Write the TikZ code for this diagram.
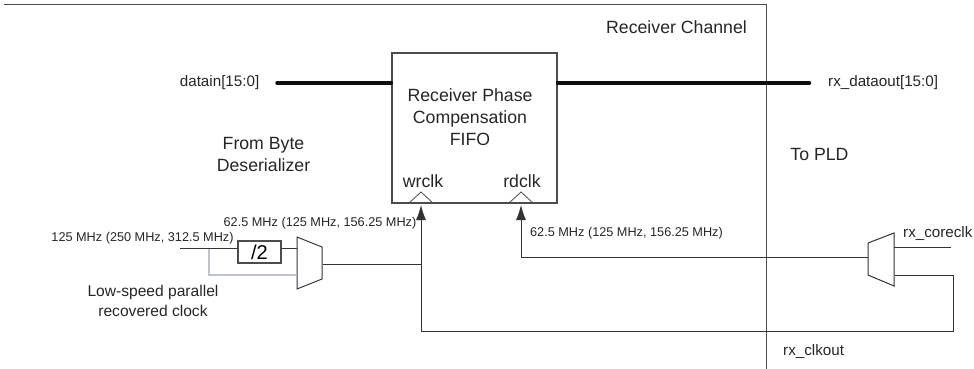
\documentclass[tikz,border=0pt]{standalone}
\usepackage{fontspec}
\setmainfont{Liberation Sans}
\usetikzlibrary{arrows.meta,positioning,calc}
\definecolor{clkgray}{RGB}{190,195,205}
\tikzset{
  lbl/.style={inner sep=0pt,font=\fontsize{17.7}{22}\selectfont,text=black!85,align=center},
  lblmid/.style={inner sep=0pt,font=\fontsize{15.2}{18}\selectfont,text=black!85},
  lblsmall/.style={inner sep=0pt,font=\fontsize{12.7}{15}\selectfont,text=black!85,align=center},
  boxline/.style={draw=black!70,line width=1.1pt},
  wire/.style={draw=black!80,line width=.9pt},
  bus/.style={draw=black!95,line width=3.4pt,line cap=round},
  clkarrow/.style={wire,shorten >=2pt,-{Latex[length=15pt,width=10pt]}},
  muxshape/.style={draw=black!80,line width=1pt}
}
\begin{document}
\begin{tikzpicture}[x=1pt,y=-1pt]
\useasboundingbox (0,0) rectangle (974,369);
% channel outline
\coordinate (chanleft) at (4,4.5);
\coordinate (chancorner) at (766.5,4.5);
\coordinate (chanend) at (766.5,369);
\draw[boxline] (chanleft)--(chancorner)--(chanend);
\node[lbl] (chanlabel) at (676.5,27.5) {Receiver Channel};
% fifo
\node[boxline,minimum width=165pt,minimum height=150pt,inner sep=0pt] (fifo) at (474.5,128) {};
\node[lbl] (fifolabel) at (470,117) {Receiver Phase\\Compensation\\FIFO};
\node[lbl] (wrlabel) at (423,181) {wrclk};
\node[lbl] (rdlabel) at (522,181) {rdclk};
\coordinate (wrpin) at (421,203);
\coordinate (rdpin) at (521,203);
\foreach \p in {wrpin,rdpin}{
\draw[boxline,line width=.8pt] ($(\p)+(-12,0)$)--($(\p)+(0,-11)$)--($(\p)+(12,0)$);}
% data path
\coordinate (busin) at (277,83);
\coordinate (busout) at (809.5,83);
\node[lblmid,anchor=east] (datain) at (259.5,83) {datain[15:0]};
\node[lblmid,anchor=west] (dataout) at (828,83) {rx\_dataout[15:0]};
\draw[bus] (busin)--(busin-|fifo.west);
\draw[bus] (busout-|fifo.east)--(busout);
\node[lbl] (fromlabel) at (263.5,154) {From Byte\\Deserializer};
\node[lbl] (tolabel) at (819.5,154) {To PLD};
% left side clock
\node[boxline,minimum width=43pt,minimum height=22pt,inner sep=0pt,font=\fontsize{20}{22}\selectfont] (div) at (259.5,252) {/2};
\coordinate (ma) at (297,237);
\coordinate (mb) at (322,247);
\coordinate (mc) at (322,279);
\coordinate (md) at (297,289);
\draw[muxshape] (ma)--(mb)--(mc)--(md)--cycle;
\coordinate (clkin) at (180,248);
\coordinate (tap) at (209,248);
\coordinate (muxlow) at (297,275);
\coordinate (muxout) at (323,264);
\coordinate (wrbottom) at (421,331);
\draw[draw=clkgray,line width=1.5pt] (tap)--(tap|-muxlow)--(muxlow);
\draw[wire] (clkin)--(clkin-|div.west);
\draw[wire] (clkin-|div.east)--(clkin-|ma);
\draw[wire] (muxout)--(muxout-|wrpin);
\draw[clkarrow] (wrbottom)--(wrpin);
\node[lblsmall] (inlabel) at (142.5,238) {125 MHz (250 MHz, 312.5 MHz)};
\node[lblsmall] (wrfreq) at (320,223) {62.5 MHz (125 MHz, 156.25 MHz)};
\node[lbl,font=\fontsize{15.6}{20}\selectfont] (lowlabel) at (153,300.5) {Low-speed parallel\\recovered clock};
% right side clock
\coordinate (na) at (868,243);
\coordinate (nb) at (894,233);
\coordinate (nc) at (894,286);
\coordinate (nd) at (868,275);
\draw[muxshape] (na)--(nb)--(nc)--(nd)--cycle;
\coordinate (rdrun) at (521,257);
\coordinate (coreend) at (951,247);
\coordinate (loopcorner) at (953,275);
\coordinate (loopstart) at (895,275);
\draw[clkarrow] (rdrun-|na)--(rdrun)--(rdpin);
\draw[wire] (coreend-|nb)--(coreend);
\draw[wire] (loopstart)--(loopcorner)--(loopcorner|-wrbottom)--(wrbottom);
\node[lblsmall] (rdfreq) at (626.5,233.5) {62.5 MHz (125 MHz, 156.25 MHz)};
\node[lblmid,anchor=west] (corelabel) at (903,233.5) {rx\_coreclk};
\node[lblmid,anchor=west] (clkoutlabel) at (783,351) {rx\_clkout};
\end{tikzpicture}
\end{document}
